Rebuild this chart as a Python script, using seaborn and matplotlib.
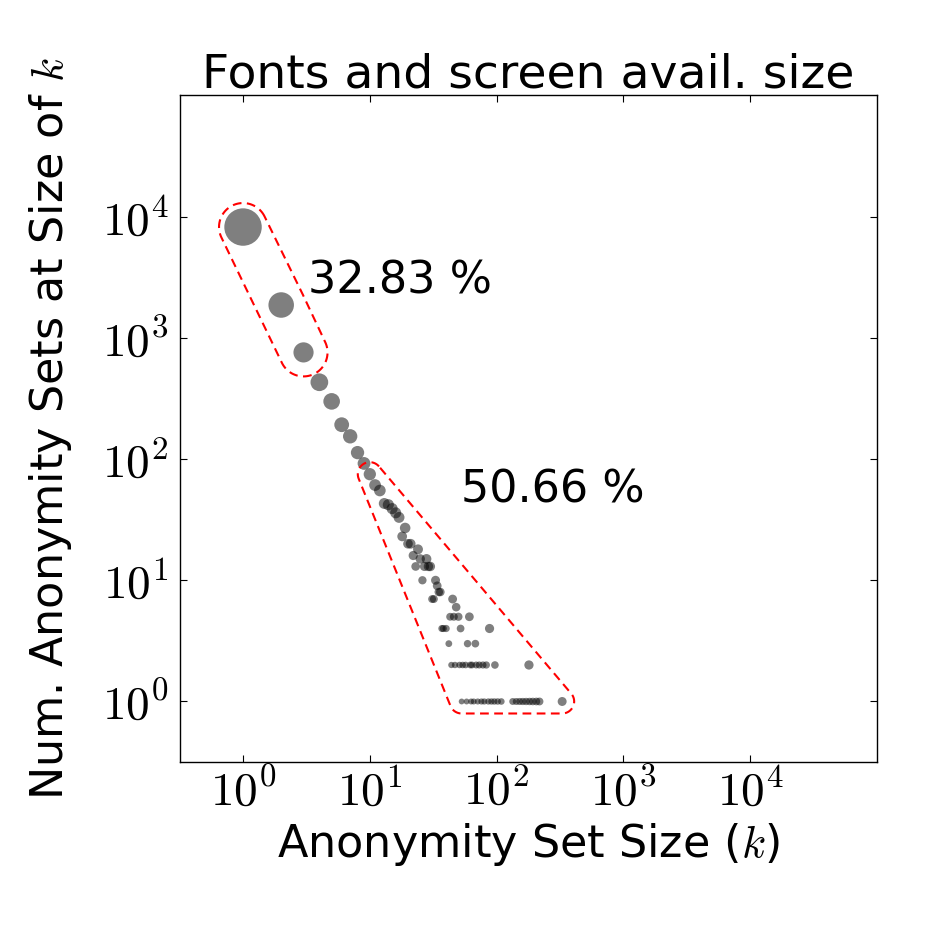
import numpy as np
import matplotlib
matplotlib.use("Agg")
import matplotlib.pyplot as plt
from matplotlib.ticker import FixedLocator, FuncFormatter, NullLocator
import seaborn as sns

# anonymity set size k and the number of sets of that size
set_size = [1, 2, 3, 4, 5, 6, 7, 8, 9, 10, 11, 12, 13, 14, 15, 16, 17, 18, 19, 20,
            21, 22, 23, 24, 25, 26, 27, 28, 29, 30, 31, 32, 33, 34, 35, 36, 37, 38, 40, 42,
            43, 44, 45, 46, 47, 48, 50, 51, 52, 53, 54, 57, 58, 59, 61, 62, 63, 64, 66, 68,
            69, 71, 73, 76, 78, 80, 83, 86, 88, 91, 96, 97, 102, 109, 134, 143, 152, 161, 171, 180,
            182, 193, 206, 218, 329]
num_sets = [8200, 1865, 758, 430, 299, 192, 154, 113, 92, 75, 61, 55, 43, 42, 39, 36, 33, 23, 27, 20,
            20, 16, 13, 18, 15, 10, 13, 15, 13, 13, 7, 7, 10, 9, 8, 8, 4, 4, 4, 3,
            5, 2, 7, 5, 2, 6, 5, 2, 4, 1, 2, 2, 1, 3, 5, 2, 1, 2, 1, 3,
            2, 1, 2, 1, 2, 1, 2, 1, 4, 1, 1, 2, 1, 1, 1, 1, 1, 1, 1, 2,
            1, 1, 1, 1, 1]

# highlighted groups and their share of users
group_labels = ["32.83 %", "50.66 %"]
group_ranges = [(1, 3), (10, 1000)]


def convex_hull(points):
    pts = sorted(set(map(tuple, points)))
    if len(pts) < 3:
        return pts

    def cross(o, a, b):
        return (a[0] - o[0]) * (b[1] - o[1]) - (a[1] - o[1]) * (b[0] - o[0])

    lower = []
    for p in pts:
        while len(lower) >= 2 and cross(lower[-2], lower[-1], p) <= 0:
            lower.pop()
        lower.append(p)
    upper = []
    for p in reversed(pts):
        while len(upper) >= 2 and cross(upper[-2], upper[-1], p) <= 0:
            upper.pop()
        upper.append(p)
    return lower[:-1] + upper[:-1]


def rounded_hull(ax, xs, ys, radius):
    # hull of the points in pixel space, grown by a fixed radius
    pix = ax.transData.transform(np.column_stack([xs, ys]))
    hull = np.array(convex_hull(pix))
    n = len(hull)
    outline = []
    for i in range(n):
        prev_pt, cur, next_pt = hull[i - 1], hull[i], hull[(i + 1) % n]
        d_in = cur - prev_pt
        d_out = next_pt - cur
        a_in = np.arctan2(-d_in[0], d_in[1])
        a_out = np.arctan2(-d_out[0], d_out[1])
        while a_out < a_in:
            a_out += 2 * np.pi
        for a in np.linspace(a_in, a_out, max(int((a_out - a_in) * 20), 2)):
            outline.append(cur + radius * np.array([np.cos(a), np.sin(a)]))
    outline.append(outline[0])
    return ax.transData.inverted().transform(np.array(outline))


def main():
    sns.set_style("ticks")
    plt.rcParams["font.family"] = ["DejaVu Sans"]
    plt.rcParams["mathtext.fontset"] = "cm"
    for key in ["text.color", "axes.labelcolor", "xtick.color", "ytick.color"]:
        plt.rcParams[key] = "black"

    k = np.array(set_size)
    cnt = np.array(num_sets)
    users = k * cnt

    fig = plt.figure(figsize=(9.26, 9.26), dpi=100)
    ax = fig.add_axes([0.194, 0.177, 0.753, 0.72])

    sns.scatterplot(x=k, y=cnt, size=users, sizes=(13, 13 + 0.087 * users.max()),
                    size_norm=(0, users.max()), color="black", alpha=0.5,
                    linewidth=0, legend=False, ax=ax)

    ax.set_xscale("log")
    ax.set_yscale("log")
    ax.set_xlim(10 ** -0.5, 1e5)
    ax.set_ylim(10 ** -0.5, 1e5)

    decades = [1, 10, 100, 1000, 10000]
    fmt = FuncFormatter(lambda v, p: r"$10^{%d}$" % round(np.log10(v)))
    for axis in (ax.xaxis, ax.yaxis):
        axis.set_major_locator(FixedLocator(decades))
        axis.set_major_formatter(fmt)
        axis.set_minor_locator(NullLocator())
    ax.tick_params(direction="in", top=True, right=True, length=5, width=0.8,
                   labelsize=34, pad=5)
    ax.tick_params(axis="y", pad=8)
    for sp in ax.spines.values():
        sp.set_linewidth(1.0)
        sp.set_color("black")

    ax.set_title("Fonts and screen avail. size", fontsize=34, pad=6)
    ax.set_xlabel("Anonymity Set Size ($k$)", fontsize=32, labelpad=4)
    ax.set_ylabel("Num. Anonymity Sets at Size of $k$", fontsize=32, labelpad=20)

    # dashed outlines around the highlighted groups
    radii = [24, 12]
    for (lo, hi), r in zip(group_ranges, radii):
        sel = (k >= lo) & (k <= hi)
        xy = rounded_hull(ax, k[sel], cnt[sel], r)
        ax.plot(xy[:, 0], xy[:, 1], color="red", lw=1.5, ls=(0, (4.2, 2.6)),
                scalex=False, scaley=False)

    ax.text(3.25, 2340, group_labels[0], fontsize=32, va="baseline", ha="left")
    ax.text(52, 44, group_labels[1], fontsize=32, va="baseline", ha="left")

    fig.savefig("out.png", dpi=100)


if __name__ == "__main__":
    main()
